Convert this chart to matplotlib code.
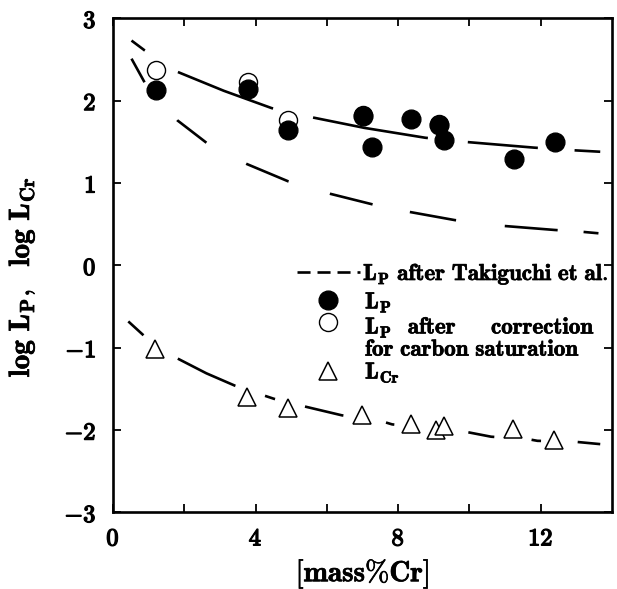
import matplotlib
matplotlib.use('Agg')
from matplotlib import pyplot as plt
from matplotlib import patheffects as pe

plt.rcParams['mathtext.fontset'] = 'cm'
plt.rcParams['mathtext.default'] = 'bf'
plt.rcParams['lines.scale_dashes'] = False

# measured L_P (filled), L_P corrected for carbon saturation (open), L_Cr (triangles)
lp_x = [1.20, 3.78, 4.91, 7.02, 7.26, 8.36, 9.16, 9.30, 11.24, 12.39]
lp_y = [2.13, 2.14, 1.64, 1.81, 1.44, 1.78, 1.70, 1.52, 1.29, 1.50]
lpc_x = [1.20, 3.78, 4.91, 7.02, 9.16]
lpc_y = [2.37, 2.23, 1.77, 1.83, 1.72]
lcr_x = [1.19, 3.76, 4.91, 6.98, 8.37, 9.06, 9.30, 11.22, 12.38]
lcr_y = [-1.01, -1.60, -1.73, -1.82, -1.92, -2.00, -1.95, -1.99, -2.12]

# curves
lp_fit_x = [0.52, 0.89, 1.81, 3.11, 4.45, 5.56, 7.05, 8.76, 9.87, 11.81, 12.83, 13.67]
lp_fit_y = [2.73, 2.61, 2.35, 2.12, 1.91, 1.80, 1.67, 1.55, 1.50, 1.43, 1.40, 1.38]
tak_x = [0.52, 0.89, 1.81, 2.65, 3.76, 4.92, 6.09, 7.29, 8.31, 9.59, 10.94, 12.40, 13.11, 13.62]
tak_y = [2.51, 2.22, 1.76, 1.48, 1.23, 1.02, 0.87, 0.74, 0.65, 0.55, 0.48, 0.43, 0.41, 0.39]
lcr_fit_x = [0.43, 0.86, 1.81, 2.62, 3.42, 4.24, 4.52, 5.35, 6.42, 7.60, 7.83, 9.89,
             10.61, 11.65, 11.91, 12.93, 13.67]
lcr_fit_y = [-0.68, -0.85, -1.13, -1.31, -1.46, -1.58, -1.62, -1.71, -1.82, -1.90, -1.93,
             -2.02, -2.08, -2.11, -2.13, -2.14, -2.17]

x_ticks = [0, 4, 8, 12]
x_minor = [2, 6, 10]
y_ticks = [-3, -2, -1, 0, 1, 2, 3]

fig = plt.figure(figsize=(6.17, 5.89), dpi=100)
ax = fig.add_axes([0.1831, 0.1299, 0.8088, 0.839])

lw = 1.9
ax.plot(lp_fit_x, lp_fit_y, color='black', lw=lw,
        dashes=(12.0, 28.4, 73.4, 29.5, 84.0, 28.9, 50.6, 26.5, 21.6, 14.4), zorder=2)
ax.plot(tak_x, tak_y, color='black', lw=lw,
        dashes=(19.4, 36, 26.6, 32.4, 33.1, 31, 31.7, 27.4, 33.8, 35.3, 38.2, 18.7, 13, 14.4),
        zorder=2)
ax.plot(lcr_fit_x, lcr_fit_y, color='black', lw=lw,
        dashes=(14.8, 29.9, 45.9, 22.5, 7.6, 22.2, 28.4, 31.1, 6.2, 53.6, 19.0, 26.9,
                6.9, 26.4, 19.3, 14.4), zorder=2)

ax.plot(lpc_x, lpc_y, 'o', ms=13, mfc='white', mec='black', mew=1.0, zorder=3)
ax.plot(lp_x, lp_y, 'o', ms=13.5, mfc='black', mec='black', zorder=4)
ax.plot(lcr_x, lcr_y, '^', ms=13, mfc='white', mec='black', mew=1.1, zorder=3)

ax.set_xlim(0, 14)
ax.set_ylim(-3, 3)
ax.set_xticks(x_ticks)
ax.set_xticks(x_minor, minor=True)
ax.set_yticks(y_ticks)
ax.set_xticklabels([r'$\mathbf{%d}$' % v for v in x_ticks])
ax.set_yticklabels([r'$\mathbf{%d}$' % v for v in y_ticks])
ax.tick_params(which='both', direction='in', top=True, right=True, length=6, width=1.3,
               labelsize=17.5)
ax.tick_params(axis='y', pad=12)
ax.tick_params(axis='x', pad=10)
for s in ax.spines.values():
    s.set_linewidth(1.9)

heavy = [pe.withStroke(linewidth=1.0, foreground='black')]
light = [pe.withStroke(linewidth=0.5, foreground='black')]
for t in ax.get_xticklabels() + ax.get_yticklabels():
    t.set_path_effects(heavy)

ax.set_xlabel(r'$[mass\%Cr]$', fontsize=21, labelpad=5, path_effects=light)
ax.set_ylabel(r'$log\ L_P,\ \ log\ L_{Cr}$', fontsize=21, path_effects=light)
ax.yaxis.set_label_coords(-0.152, 0.476)

# legend, laid out by hand
tr = ax.transAxes
fs = 16.6
ax.plot([0.369, 0.495], [0.486, 0.486], color='black', lw=lw, dashes=(9.4, 5.0),
        transform=tr, clip_on=False)
ax.text(0.501, 0.470, r'$L_P\ after\ Takiguchi\ et\ al.$', fontsize=fs, transform=tr,
        va='baseline', ha='left', path_effects=light)
ax.plot([0.431], [0.431], 'o', ms=13.5, color='black', transform=tr)
ax.text(0.505, 0.413, r'$L_P$', fontsize=fs, transform=tr, va='baseline', ha='left',
        path_effects=light)
ax.plot([0.431], [0.385], 'o', ms=13, mfc='white', mec='black', mew=1.0, transform=tr)
ax.text(0.505, 0.362, r'$L_P$', fontsize=fs, transform=tr, va='baseline', ha='left',
        path_effects=light)
ax.text(0.640, 0.362, r'$after$', fontsize=fs, transform=tr, va='baseline', ha='center',
        path_effects=light)
ax.text(0.966, 0.362, r'$correction$', fontsize=fs, transform=tr, va='baseline', ha='right',
        path_effects=light)
ax.text(0.505, 0.317, r'$for\ carbon\ saturation$', fontsize=fs, transform=tr,
        va='baseline', ha='left', path_effects=light)
ax.plot([0.431], [0.287], '^', ms=13, mfc='white', mec='black', mew=1.1, transform=tr)
ax.text(0.505, 0.271, r'$L_{Cr}$', fontsize=fs, transform=tr, va='baseline', ha='left',
        path_effects=light)

fig.savefig('out.png', dpi=100)
